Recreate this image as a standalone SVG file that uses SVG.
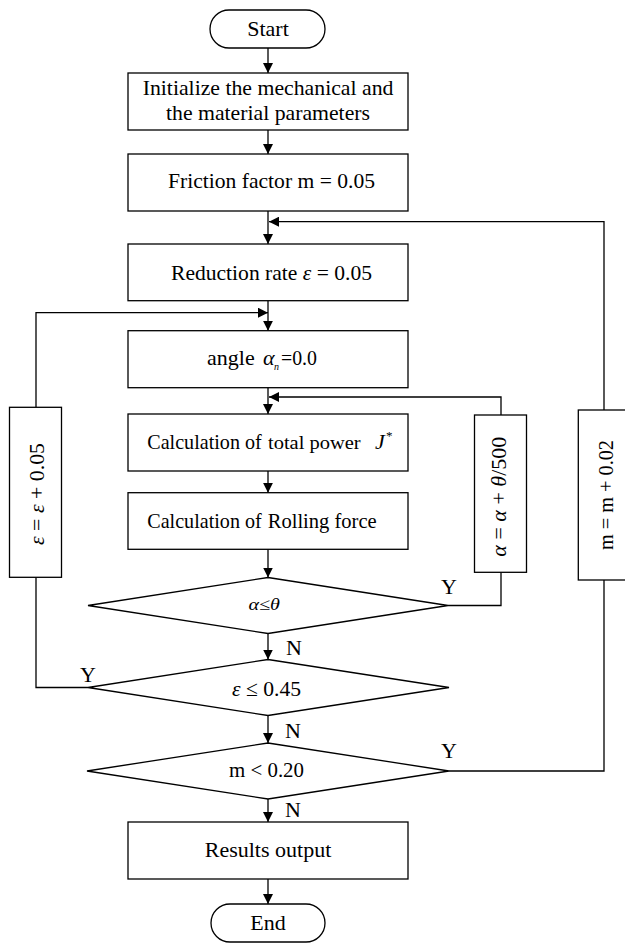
<svg xmlns="http://www.w3.org/2000/svg" width="625" height="944" viewBox="0 0 625 944">
<style>
.s{fill:#fff;stroke:#000;stroke-width:1.3}
.c{fill:none;stroke:#000;stroke-width:1.3}
text{font-family:"Liberation Serif","Times New Roman",serif;font-size:22px;fill:#000}
.m{text-anchor:middle}
.i{font-style:italic}
</style>
<defs>
<marker id="ah" viewBox="0 0 10 10" refX="10" refY="5" markerWidth="10" markerHeight="10" orient="auto" markerUnits="userSpaceOnUse"><path d="M0,0 L10,5 L0,10 z" fill="#000"/></marker>
</defs>
<rect width="625" height="944" fill="#fff"/>
<g id="connectors">
<line class="c" x1="268" y1="48" x2="268" y2="73" marker-end="url(#ah)"/>
<line class="c" x1="268" y1="130" x2="268" y2="154" marker-end="url(#ah)"/>
<line class="c" x1="268" y1="211" x2="268" y2="244" marker-end="url(#ah)"/>
<line class="c" x1="268" y1="300.7" x2="268" y2="330.7" marker-end="url(#ah)"/>
<line class="c" x1="268" y1="387.7" x2="268" y2="414" marker-end="url(#ah)"/>
<line class="c" x1="268" y1="471" x2="268" y2="492.7" marker-end="url(#ah)"/>
<line class="c" x1="268" y1="549.3" x2="268" y2="577.5" marker-end="url(#ah)"/>
<line class="c" x1="268" y1="633.5" x2="268" y2="659.5" marker-end="url(#ah)"/>
<line class="c" x1="268" y1="715.5" x2="268" y2="743" marker-end="url(#ah)"/>
<line class="c" x1="268" y1="799" x2="268" y2="822" marker-end="url(#ah)"/>
<line class="c" x1="268" y1="879" x2="268" y2="904" marker-end="url(#ah)"/>
<polyline class="c" points="88,687.5 36,687.5 36,577.3"/>
<polyline class="c" points="36,407.3 36,312.7 268,312.7" marker-end="url(#ah)"/>
<polyline class="c" points="448,605.5 501,605.5 501,572.3"/>
<polyline class="c" points="501,415 501,397 269,397" marker-end="url(#ah)"/>
<polyline class="c" points="449,771 604,771 604,580"/>
<polyline class="c" points="604,410 604,221.7 269,221.7" marker-end="url(#ah)"/>
<text x="449" y="594" class="m">Y</text>
<text x="294" y="655" class="m">N</text>
<text x="88" y="682" class="m">Y</text>
<text x="293" y="738" class="m">N</text>
<text x="449" y="758" class="m">Y</text>
<text x="293" y="817" class="m">N</text>
</g>
<g id="start">
<rect class="s" x="210" y="10" width="115" height="38" rx="19"/>
<text x="268" y="36" class="m">Start</text>
</g>
<g id="init">
<rect class="s" x="128" y="73" width="280" height="57"/>
<text x="142.7" y="95" textLength="250.7" lengthAdjust="spacingAndGlyphs">Initialize the mechanical and</text>
<text x="166" y="120" textLength="204" lengthAdjust="spacingAndGlyphs">the material parameters</text>
</g>
<g id="friction">
<rect class="s" x="128" y="154" width="280" height="57"/>
<text x="168" y="188" textLength="207" lengthAdjust="spacingAndGlyphs">Friction factor m = 0.05</text>
</g>
<g id="reduction">
<rect class="s" x="128" y="244" width="280" height="56.7"/>
<text x="171" y="280" textLength="201" lengthAdjust="spacingAndGlyphs">Reduction rate <tspan class="i">ε</tspan> = 0.05</text>
</g>
<g id="angle">
<rect class="s" x="128" y="330.7" width="280" height="57"/>
<text x="207" y="365">angle</text>
<text x="263" y="365" class="i">α</text>
<text x="274" y="370" class="i" style="font-size:10px">n</text>
<text x="281" y="365" textLength="36" lengthAdjust="spacingAndGlyphs" style="font-size:20px">=0.0</text>
</g>
<g id="total-power">
<rect class="s" x="128" y="414" width="280" height="57"/>
<text x="147.3" y="449.3" textLength="114.4" lengthAdjust="spacingAndGlyphs">Calculation of</text>
<text x="268" y="449.3" textLength="92.7" lengthAdjust="spacingAndGlyphs" style="font-size:19px">total power</text>
<text x="375" y="449.3" class="i">J</text>
<text x="386" y="440" style="font-size:13px">*</text>
</g>
<g id="rolling">
<rect class="s" x="128" y="492.7" width="280" height="56.6"/>
<text x="147.3" y="528.3" textLength="114.4" lengthAdjust="spacingAndGlyphs">Calculation of</text>
<text x="267.7" y="528.3" textLength="109" lengthAdjust="spacingAndGlyphs" style="font-size:20px">Rolling force</text>
</g>
<g id="cond-alpha">
<polygon class="s" points="268,577.5 448,605.5 268,633.5 88,605.5"/>
<text x="248.5" y="610" class="i" textLength="31.5" lengthAdjust="spacingAndGlyphs" style="font-size:17px">α≤θ</text>
</g>
<g id="cond-eps">
<polygon class="s" points="268,659.5 449,687.5 268,715.5 88,687.5"/>
<text x="232" y="696" textLength="69" lengthAdjust="spacingAndGlyphs"><tspan class="i">ε</tspan> ≤ 0.45</text>
</g>
<g id="cond-m">
<polygon class="s" points="268,743 449,771 268,799 87,771"/>
<text x="229" y="777" textLength="75" lengthAdjust="spacingAndGlyphs">m &lt; 0.20</text>
</g>
<g id="eps-update">
<rect class="s" x="9.5" y="407.3" width="52" height="170"/>
<text transform="translate(43.5,494) rotate(-90)" class="m" textLength="102" lengthAdjust="spacingAndGlyphs"><tspan class="i">ε</tspan> = <tspan class="i">ε</tspan> + 0.05</text>
</g>
<g id="alpha-update">
<rect class="s" x="474.5" y="415" width="52" height="157.3"/>
<text transform="translate(505.5,496.7) rotate(-90)" class="m" textLength="120" lengthAdjust="spacingAndGlyphs"><tspan class="i">α</tspan> = <tspan class="i">α</tspan> + <tspan class="i">θ</tspan>/500</text>
</g>
<g id="m-update">
<rect class="s" x="578.3" y="410" width="52" height="170"/>
<text transform="translate(613,495) rotate(-90)" class="m" textLength="110" lengthAdjust="spacingAndGlyphs">m = m + 0.02</text>
</g>
<g id="results">
<rect class="s" x="128" y="822" width="280" height="57"/>
<text x="268" y="857" class="m">Results output</text>
</g>
<g id="end">
<rect class="s" x="211" y="904" width="114" height="38" rx="19"/>
<text x="268" y="930" class="m">End</text>
</g>
</svg>
